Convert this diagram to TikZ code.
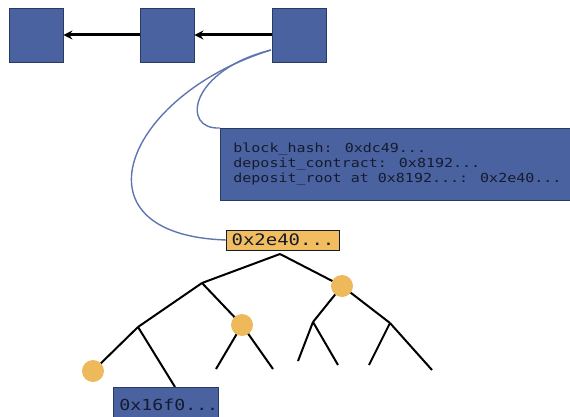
\documentclass[tikz,border=0pt]{standalone}
\usepackage{fontspec}
\usetikzlibrary{arrows.meta}
\newfontfamily\hashfont[FakeStretch=1.2]{DejaVu Sans Mono}
\definecolor{blockblue}{HTML}{4A63A0}
\definecolor{blockedge}{HTML}{2A3A66}
\definecolor{hashgold}{HTML}{F2BD5E}
\definecolor{nodegold}{HTML}{EDB95A}
\definecolor{linkblue}{HTML}{6075B0}
\definecolor{inkdark}{HTML}{151A2E}
\tikzset{
  chainblock/.style={draw=blockedge, line width=0.8pt, fill=blockblue,
    minimum width=54pt, minimum height=54pt, inner sep=0pt},
  chainlink/.style={line width=3pt, -{Stealth[length=9pt,width=9pt]}},
  headerbox/.style={draw=blockedge, line width=0.8pt, fill=blockblue,
    text=inkdark, font=\hashfont\fontsize{12.5}{15}\selectfont,
    align=left, anchor=north west, inner xsep=13pt,
    minimum width=352pt, minimum height=72pt},
  rootbox/.style={draw=inkdark, line width=0.8pt, fill=hashgold,
    text=inkdark, font=\hashfont\fontsize{15.8}{18}\selectfont,
    inner xsep=5pt, inner ysep=2pt, minimum height=20pt},
  leafbox/.style={draw=blockedge, line width=0.8pt, fill=blockblue,
    text=inkdark, font=\hashfont\fontsize{15.2}{18}\selectfont,
    anchor=north west, inner xsep=6pt, text width=93pt,
    minimum height=44pt, text depth=10pt},
  proofnode/.style={circle, fill=nodegold, minimum size=22pt, inner sep=0pt},
  branch/.style={line width=2pt, black},
  witness/.style={line width=1.4pt, linkblue},
}
\begin{document}
\begin{tikzpicture}[x=1pt, y=-1pt]
\useasboundingbox (0,0) rectangle (570,417);

% chain of blocks
\node[chainblock] (b1) at (36,35) {};
\node[chainblock] (b2) at (167,35) {};
\node[chainblock] (b3) at (299,35) {};
\draw[chainlink] (b2.west) -- (b1.east);
\draw[chainlink] (b3.west) -- (b2.east);

% block header contents
\node[headerbox] (hdr) at (220,128)
  {block\_hash: 0xdc49...\\
   deposit\_contract: 0x8192...\\
   deposit\_root at 0x8192...: 0x2e40...};

% deposit tree root
\node[rootbox] (root) at (283,240) {0x2e40...};

% links from the block
\coordinate (b3out) at (271,50);
\draw[witness] (b3out) .. controls (190,70) and (180,130) .. (hdr.north west);
\draw[witness] (b3out) .. controls (125,95) and (68,235) .. (root.west);

% tree skeleton
\coordinate (apex) at (280,254);
\coordinate (l1) at (202,283);
\coordinate (l2) at (138,327);
\coordinate (c1) at (342,286);
\coordinate (c2) at (242,325);
\coordinate (c3) at (93,371);
\coordinate (r2a) at (313,322);
\coordinate (r2b) at (390,323);
\coordinate (k1) at (216,369);
\coordinate (k2) at (273,369);
\coordinate (k3) at (298,361);
\coordinate (k4) at (338,365);
\coordinate (k5) at (369,365);
\coordinate (k6) at (432,370);
\coordinate (leaftop) at (175,387);

\draw[branch] (apex) -- (l1);
\draw[branch] (apex) -- (c1);
\draw[branch] (l1) -- (l2);
\draw[branch] (l1) -- (c2);
\draw[branch] (l2) -- (c3);
\draw[branch] (l2) -- (leaftop);
\draw[branch] (c2) -- (k1);
\draw[branch] (c2) -- (k2);
\draw[branch] (c1) -- (r2a);
\draw[branch] (c1) -- (r2b);
\draw[branch] (r2a) -- (k3);
\draw[branch] (r2a) -- (k4);
\draw[branch] (r2b) -- (k5);
\draw[branch] (r2b) -- (k6);

% gold proof nodes and the deposit leaf
\node[proofnode] (p1) at (c1) {};
\node[proofnode] (p2) at (c2) {};
\node[proofnode] (p3) at (c3) {};
\node[leafbox] (leaf) at (113,387) {0x16f0...};
\end{tikzpicture}
\end{document}
